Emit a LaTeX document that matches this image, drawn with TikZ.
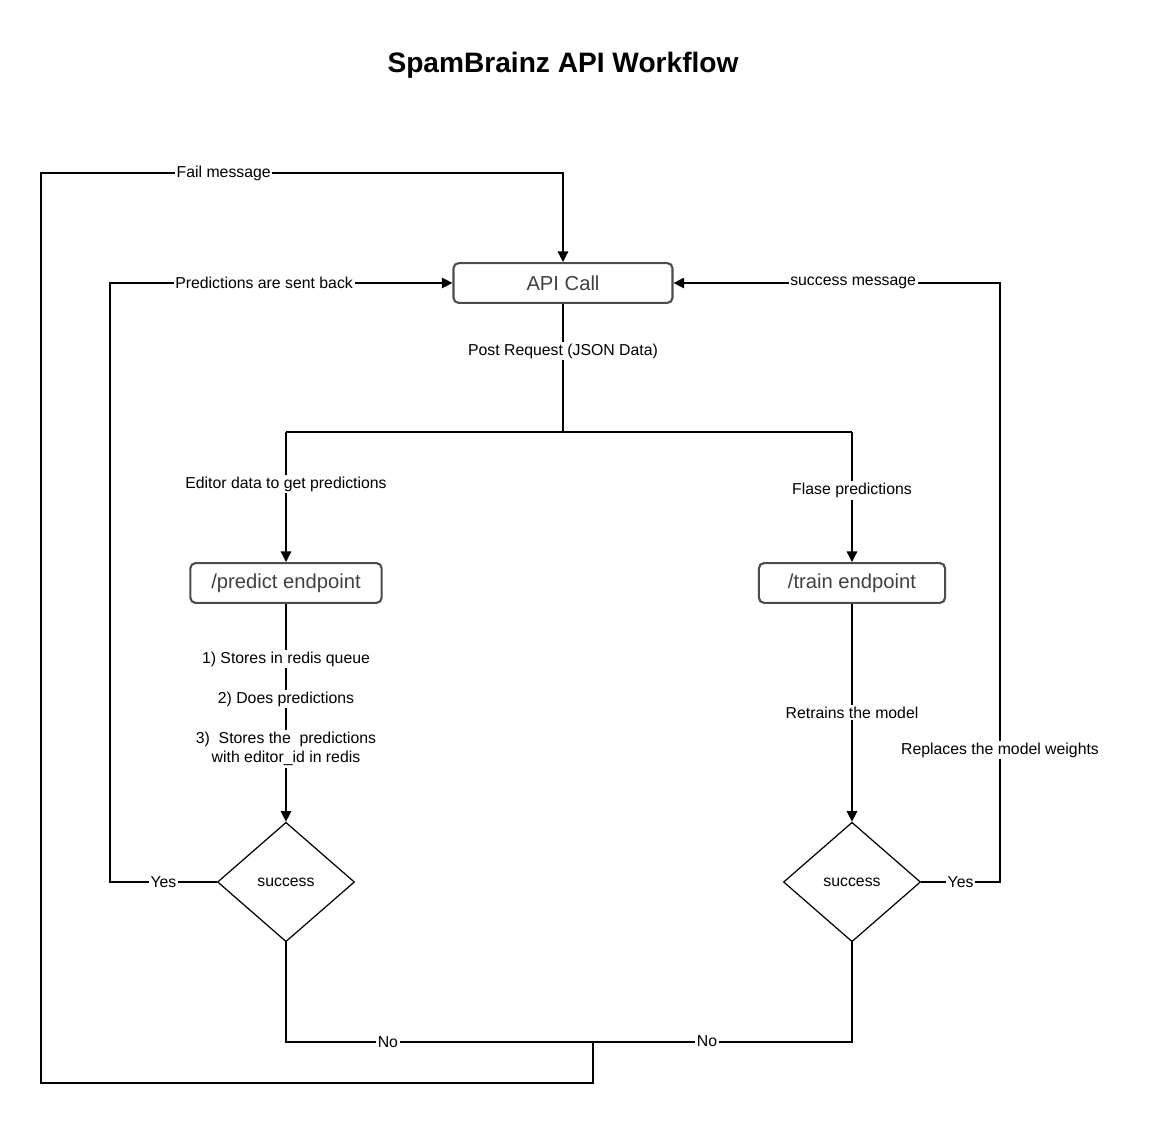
\documentclass[tikz,border=0pt]{standalone}
\usepackage{fontspec}
\setmainfont{Liberation Sans}
\usetikzlibrary{shapes.geometric,arrows.meta}
\tikzset{
  box/.style={draw=black!70, line width=1.2pt, rounded corners=3pt, minimum height=22.7pt, font=\fontsize{11.5}{13}\selectfont, text=black!75},
  dec/.style={draw, diamond, aspect=1.15, minimum width=78pt, minimum height=68pt, inner sep=0pt, font=\fontsize{9}{11}\selectfont},
  lbl/.style={fill=white, inner sep=1pt, font=\fontsize{9}{11}\selectfont, align=center},
  arr/.style={-{Triangle[length=6pt,width=6pt]}},
}
\begin{document}
\begin{tikzpicture}[x=0.02cm, y=-0.02cm, line width=0.7pt]
\useasboundingbox (0,0) rectangle (1153,1125);
\node (title) at (563,65) {\fontsize{16}{19}\selectfont\bfseries SpamBrainz API Workflow};

\node (api) [box, minimum width=124.7pt] at (563,283) {API Call};
\node (pred) [box, minimum width=108.9pt] at (286,583) {/predict endpoint};
\node (train) [box, minimum width=106pt] at (852,583) {/train endpoint};
\node (d1) [dec] at (286,882) {success};
\node (d2) [dec] at (852,882) {success};

\coordinate (split) at (563,432);
\coordinate (sl) at (286,432);
\coordinate (sr) at (852,432);
\coordinate (yl) at (110,882);
\coordinate (ylt) at (110,283);
\coordinate (yr) at (1000,882);
\coordinate (yrt) at (1000,283);
\coordinate (nl) at (286,1042);
\coordinate (nr) at (852,1042);
\coordinate (nm) at (593,1042);
\coordinate (f1) at (593,1083);
\coordinate (f2) at (41,1083);
\coordinate (f3) at (41,173);
\coordinate (f4) at (563,173);

\draw (api) -- node [lbl, pos=0.37] {Post Request (JSON Data)} (split);
\draw (sl) -- (sr);
\draw [arr] (sl) -- node [lbl, pos=0.4] {Editor data to get predictions} (pred);
\draw [arr] (sr) -- node [lbl, pos=0.45] {Flase predictions} (train);
\draw [arr] (pred) -- (d1);
\node [lbl] at (286,659) {1) Stores in redis queue};
\node [lbl] at (286,699) {2) Does predictions};
\node [lbl] at (286,749) {3)\ \ Stores the\ \ predictions\\with editor\_id in redis};
\draw [arr] (train) -- node [lbl, pos=0.5] {Retrains the model} (d2);

\draw [arr] (d1.west) -- node [lbl] {Yes} (yl) -- (ylt) -- node [lbl, pos=0.45] {Predictions are sent back} (api.west);
\draw [arr] (d2.east) -- node [lbl] {Yes} (yr) -- node [lbl, pos=0.22] {Replaces the model weights} (yrt) -- node [lbl, pos=0.45] {success message} (api.east);
\draw (d1.south) -- (nl) -- node [lbl, pos=0.18] {No} (nr) -- (d2.south);
\node [lbl] at (707,1041) {No};
\draw [arr] (nm) -- (f1) -- (f2) -- (f3) -- node [lbl, pos=0.35] {Fail message} (f4) -- (api.north);
\end{tikzpicture}
\end{document}
